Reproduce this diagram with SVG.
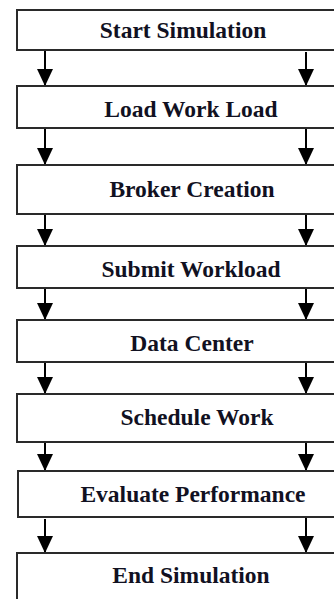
<svg xmlns="http://www.w3.org/2000/svg" width="334" height="599" viewBox="0 0 334 599">
  <style>
    .box { fill: #ffffff; stroke: #2a2a2a; stroke-width: 2; }
    .lbl { font-family: "Liberation Serif", "Times New Roman", serif; font-weight: bold; font-size: 23.5px; fill: #111122; text-anchor: middle; }
    .arr { stroke: #000000; stroke-width: 2; fill: none; marker-end: url(#head); }
  </style>
  <defs>
    <marker id="head" markerUnits="userSpaceOnUse" markerWidth="16" markerHeight="18" viewBox="0 0 16 18" refX="8" refY="17" orient="0">
      <path d="M0,0 L16,0 L8,17 Z" fill="#000000"/>
    </marker>
  </defs>
  <rect width="334" height="599" fill="#ffffff"/>
  <g id="connectors">
    <line class="arr" x1="45" y1="50" x2="45" y2="86"/>
    <line class="arr" x1="306" y1="52" x2="306" y2="86"/>
    <line class="arr" x1="45" y1="128" x2="45" y2="165"/>
    <line class="arr" x1="306" y1="128" x2="306" y2="165"/>
    <line class="arr" x1="45" y1="214" x2="45" y2="246"/>
    <line class="arr" x1="306" y1="214" x2="306" y2="246"/>
    <line class="arr" x1="45" y1="288" x2="45" y2="320"/>
    <line class="arr" x1="306" y1="288" x2="306" y2="320"/>
    <line class="arr" x1="45" y1="362" x2="45" y2="394"/>
    <line class="arr" x1="306" y1="362" x2="306" y2="394"/>
    <line class="arr" x1="45" y1="442" x2="45" y2="471"/>
    <line class="arr" x1="306" y1="442" x2="306" y2="471"/>
    <line class="arr" x1="45" y1="519" x2="45" y2="553"/>
    <line class="arr" x1="306" y1="517" x2="306" y2="553"/>
  </g>
  <g id="n1"><rect class="box" x="17" y="10" width="350" height="40"/><text class="lbl" x="183" y="38">Start Simulation</text></g>
  <g id="n2"><rect class="box" x="17" y="86" width="350" height="42"/><text class="lbl" x="191" y="117">Load Work Load</text></g>
  <g id="n3"><rect class="box" x="17" y="165" width="350" height="49"/><text class="lbl" x="192" y="197">Broker Creation</text></g>
  <g id="n4"><rect class="box" x="17" y="246" width="350" height="42"/><text class="lbl" x="191" y="277">Submit Workload</text></g>
  <g id="n5"><rect class="box" x="17" y="320" width="350" height="42"/><text class="lbl" x="192" y="351">Data Center</text></g>
  <g id="n6"><rect class="box" x="17" y="394" width="350" height="48"/><text class="lbl" x="197" y="425">Schedule Work</text></g>
  <g id="n7"><rect class="box" x="18" y="471" width="350" height="46"/><text class="lbl" x="193" y="502">Evaluate Performance</text></g>
  <g id="n8"><rect class="box" x="17" y="553" width="350" height="70"/><text class="lbl" x="191" y="583">End Simulation</text></g>
</svg>
